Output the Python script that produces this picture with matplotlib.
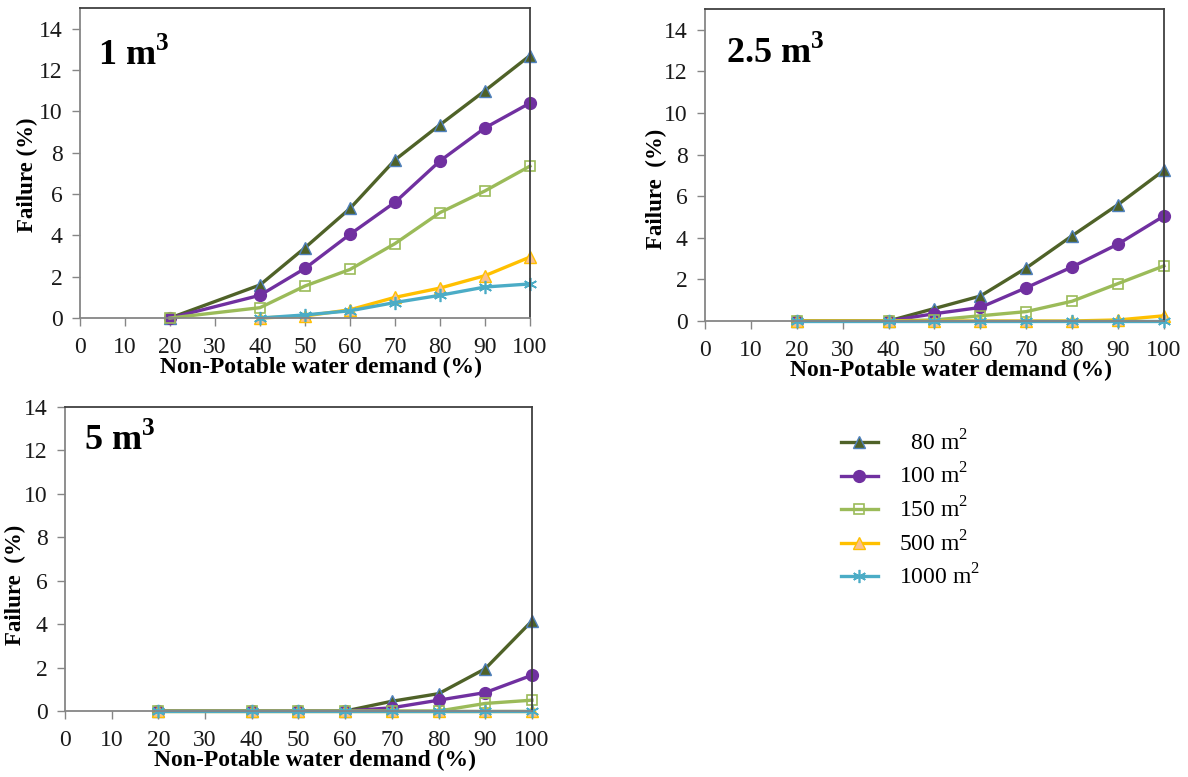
import numpy as np
import matplotlib
matplotlib.use('Agg')
import matplotlib.pyplot as plt

plt.rcParams['font.family'] = ['Liberation Serif', 'DejaVu Serif']
plt.rcParams['mathtext.fontset'] = 'custom'
plt.rcParams['mathtext.rm'] = 'Liberation Serif'
plt.rcParams['mathtext.bf'] = 'Liberation Serif:bold'

# data
demand = [20, 40, 50, 60, 70, 80, 90, 100]
demand_big = [40, 50, 60, 70, 80, 90, 100]

# 1 m3 tank
t1_80 = [0, 1.6, 3.4, 5.3, 7.65, 9.35, 11.0, 12.7]
t1_100 = [0, 1.1, 2.4, 4.05, 5.6, 7.6, 9.2, 10.4]
t1_150 = [0, 0.5, 1.55, 2.35, 3.6, 5.1, 6.15, 7.35]
t1_500 = [0, 0.1, 0.4, 1.0, 1.45, 2.05, 2.95]
t1_1000 = [0, 0.15, 0.35, 0.75, 1.1, 1.5, 1.65]

# 2.5 m3 tank
t2_80 = [0, 0, 0.6, 1.2, 2.55, 4.1, 5.6, 7.25]
t2_100 = [0, 0, 0.35, 0.65, 1.6, 2.6, 3.7, 5.05]
t2_150 = [0, 0, 0.05, 0.25, 0.45, 0.95, 1.8, 2.65]
t2_500 = [0, 0, 0, 0, 0, 0, 0.05, 0.25]
t2_1000 = [0, 0, 0, 0, 0, 0, 0, 0]

# 5 m3 tank
t3_80 = [0, 0, 0, 0, 0.45, 0.8, 1.95, 4.15]
t3_100 = [0, 0, 0, 0, 0.15, 0.5, 0.85, 1.65]
t3_150 = [0, 0, 0, 0, 0, 0, 0.35, 0.5]
t3_500 = [0, 0, 0, 0, 0, 0, 0, 0]
t3_1000 = [0, 0, 0, 0, 0, 0, 0, 0]

labels = ['  80 m$^2$', '100 m$^2$', '150 m$^2$', '500 m$^2$', '1000 m$^2$']
xticks = [0, 10, 20, 30, 40, 50, 60, 70, 80, 90, 100]
yticks = [0, 2, 4, 6, 8, 10, 12, 14]

styles = [
    dict(color='#4F6228', marker='^', ms=8.5, mfc='#4F6228', mec='#4F81BD', mew=1),
    dict(color='#7030A0', marker='o', ms=8.5, mfc='#7030A0', mec='#7030A0'),
    dict(color='#9BBB59', marker='s', ms=7.5, mfc='none', mec='#9BBB59', mew=1.2),
    dict(color='#FFC000', marker='^', ms=8.5, mfc='#FAC08F', mec='#FFC000', mew=1),
    dict(color='#4BACC6', marker=(6, 2, 0), ms=9.5, mec='#4BACC6', mew=1.2),
]

fig = plt.figure(figsize=(11.88, 7.77), dpi=100)
ax1 = fig.add_axes([0.0673, 0.5907, 0.3788, 0.399])
ax2 = fig.add_axes([0.5934, 0.5869, 0.3864, 0.4015])
ax3 = fig.add_axes([0.0547, 0.0849, 0.3931, 0.3913])

panels = [
    (ax1, '1 m$^{\\mathbf{3}}$', [(demand, t1_80), (demand, t1_100), (demand, t1_150),
                                   (demand_big, t1_500), (demand_big, t1_1000)],
     15, (0.040, 0.816), (-0.093, 0.461), -0.177, 'Failure (%)'),
    (ax2, '2.5 m$^{\\mathbf{3}}$', [(demand, t2_80), (demand, t2_100), (demand, t2_150),
                                     (demand, t2_500), (demand, t2_1000)],
     15, (0.046, 0.827), (-0.083, 0.423), -0.176, 'Failure  (%)'),
    (ax3, '5 m$^{\\mathbf{3}}$', [(demand, t3_80), (demand, t3_100), (demand, t3_150),
                                   (demand, t3_500), (demand, t3_1000)],
     14, (0.041, 0.859), (-0.0835, 0.414), -0.181, 'Failure  (%)'),
]

for ax, title, series, ytop, tpos, lpos, xly, ylab in panels:
    for (x, y), st, lab in zip(series, styles, labels):
        ax.plot(x, y, lw=2.4, label=lab, clip_on=False, **st)
    ax.set_xlim(0, 100)
    ax.set_ylim(0, ytop)
    ax.set_xticks(xticks)
    ax.set_yticks(yticks)
    ax.tick_params(axis='both', labelsize=17, direction='out', length=5.5, width=1,
                   color='#868686', labelcolor='#1a1a1a')
    ax.tick_params(axis='x', pad=8)
    ax.tick_params(axis='y', pad=7)
    for side in ['left', 'bottom']:
        ax.spines[side].set_color('#868686')
        ax.spines[side].set_linewidth(1.3)
    for side in ['top', 'right']:
        ax.spines[side].set_color('#404040')
        ax.spines[side].set_linewidth(1.3)
    ax.set_xlabel('Non-Potable water demand (%)', fontsize=17, fontweight='bold',
                  va='baseline')
    ax.xaxis.set_label_coords(0.535, xly)
    ax.set_ylabel(ylab, fontsize=16.5, fontweight='bold')
    ax.yaxis.set_label_coords(*lpos)
    ax.text(tpos[0], tpos[1], title, transform=ax.transAxes, fontsize=26,
            fontweight='bold', va='baseline', ha='left')

handles, labs = ax1.get_legend_handles_labels()
fig.legend(handles, labs, loc='upper left', bbox_to_anchor=(0.700, 0.4586), frameon=False,
           fontsize=17, handlelength=1.55, handletextpad=0.9, labelspacing=0.35,
           borderaxespad=0)

fig.savefig('out.png', dpi=100)
